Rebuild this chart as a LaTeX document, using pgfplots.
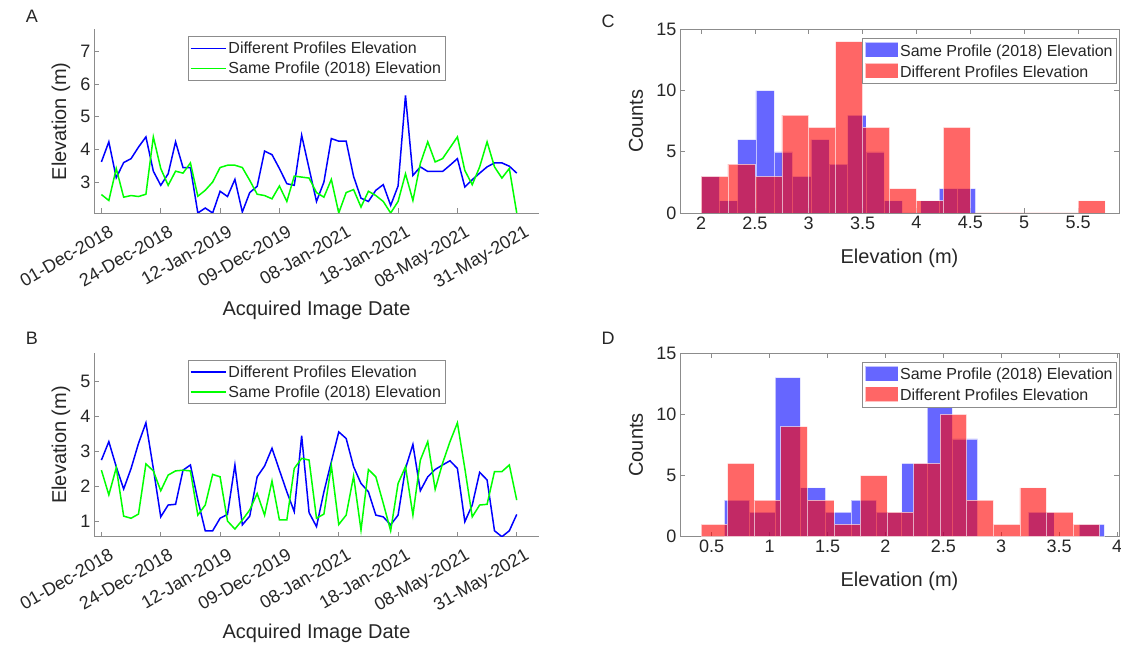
\documentclass[border=0pt]{standalone}
\usepackage{pgfplots}
\pgfplotsset{compat=1.18}
\usepackage{fontspec}
\setmainfont{Liberation Sans}
\definecolor{txt}{HTML}{262626}
\definecolor{axc}{HTML}{8C8C8C}
\definecolor{mblue}{rgb}{0,0,1}
\definecolor{mgreen}{rgb}{0,1,0}
\definecolor{mred}{rgb}{1,0,0}

\pgfplotsset{
  common/.style={
    scale only axis, height=183.5pt,
    axis line style={-, axc, line width=0.7pt},
    every tick/.style={axc, line width=0.7pt},
    major tick length=5pt,
    tick align=inside,
    ticklabel style={font=\fontsize{18}{21}\selectfont, text=txt},
    label style={font=\fontsize{20}{24}\selectfont, text=txt},
    /pgf/number format/assume math mode=true,
    legend style={font=\fontsize{16}{19}\selectfont, text=txt, draw=axc, fill=white, line width=0.7pt, inner xsep=2pt, inner ysep=3pt, row sep=3pt},
    legend cell align=left,
  },
  lineax/.style={common, width=445pt, xmin=0, xmax=60,
    axis x line*=bottom, axis y line*=left,
    xtick={1,9,17,25,33,41,49,57},
    xticklabels={01-Dec-2018,24-Dec-2018,12-Jan-2019,09-Dec-2019,08-Jan-2021,18-Jan-2021,08-May-2021,31-May-2021},
    xticklabel style={xshift=7pt, yshift=-11pt, rotate=30, anchor=north east, inner sep=0pt},
    xlabel={Acquired Image Date}, ylabel={Elevation (m)},
    xlabel style={at={([yshift=-97pt]axis description cs:0.5,0)}, anchor=center},
    ylabel style={at={([xshift=-33pt]axis description cs:0,0.5)}, anchor=center},
    legend image code/.code={\draw[##1, line width=1.5pt] (0pt,0pt) -- (35pt,0pt);},
    legend style={at={(0.5,1)}, anchor=north, yshift=-7pt},
  },
  histax/.style={common, width=439pt, ymin=0, ymax=15, ytick={0,5,10,15}, ylabel={Counts}, xlabel={Elevation (m)},
    xlabel style={at={([yshift=-45pt]axis description cs:0.5,0)}, anchor=center},
    ylabel style={at={([xshift=-44pt]axis description cs:0,0.5)}, anchor=center},
    legend image code/.code={\draw[##1] (0pt,-6pt) rectangle (33pt,9pt);},
    legend style={at={(1,1)}, anchor=north east, xshift=-2pt, yshift=-9pt},
  },
  hb/.style={ybar interval, fill=mblue, fill opacity=0.6, draw=white, draw opacity=0.6, line width=0.6pt},
  hr/.style={ybar interval, fill=mred, fill opacity=0.6, draw=white, draw opacity=0.6, line width=0.6pt},
}

\begin{document}
\begin{tikzpicture}
\useasboundingbox (0pt,0pt) rectangle (1121pt,648pt);

% Panel A
\begin{axis}[lineax, at={(94pt,435pt)}, anchor=south west, ymin=2.08, ymax=7.65, ytick={3,4,5,6,7}]
\addplot[mblue, line width=1.5pt] coordinates {
(1,3.63)(2,4.24)(3,3.15)(4,3.61)(5,3.73)(6,4.08)(7,4.39)(8,3.35)(9,2.92)(10,3.27)
(11,4.24)(12,3.46)(13,3.46)(14,2.08)(15,2.23)(16,2.08)(17,2.74)(18,2.58)(19,3.10)(20,2.11)
(21,2.70)(22,2.89)(23,3.96)(24,3.85)(25,3.43)(26,2.97)(27,2.92)(28,4.44)(29,3.43)(30,2.43)
(31,3.02)(32,4.34)(33,4.26)(34,4.26)(35,3.19)(36,2.53)(37,2.43)(38,2.77)(39,2.94)(40,2.31)
(41,2.90)(42,5.65)(43,3.22)(44,3.48)(45,3.34)(46,3.34)(47,3.34)(48,3.53)(49,3.73)(50,2.87)
(51,3.09)(52,3.29)(53,3.48)(54,3.60)(55,3.60)(56,3.50)(57,3.29)};
\addlegendentry{Different Profiles Elevation}
\addplot[mgreen, line width=1.5pt] coordinates {
(1,2.64)(2,2.46)(3,3.43)(4,2.56)(5,2.61)(6,2.58)(7,2.65)(8,4.39)(9,3.43)(10,2.92)
(11,3.35)(12,3.29)(13,3.60)(14,2.59)(15,2.77)(16,3.02)(17,3.46)(18,3.53)(19,3.53)(20,3.46)
(21,3.07)(22,2.65)(23,2.61)(24,2.51)(25,2.90)(26,2.43)(27,3.20)(28,3.17)(29,3.14)(30,2.70)
(31,2.56)(32,3.10)(33,2.08)(34,2.70)(35,2.79)(36,2.26)(37,2.74)(38,2.61)(39,2.43)(40,2.08)
(41,2.43)(42,3.27)(43,2.46)(44,3.58)(45,4.24)(46,3.63)(47,3.73)(48,4.06)(49,4.39)(50,3.37)
(51,2.94)(52,3.48)(53,4.24)(54,3.48)(55,3.14)(56,3.43)(57,2.08)};
\addlegendentry{Same Profile (2018) Elevation}
\end{axis}

% Panel B
\begin{axis}[lineax, at={(94pt,111.3pt)}, anchor=south west, ymin=0.55, ymax=5.82, ytick={1,2,3,4,5}]
\addplot[mblue, line width=1.5pt] coordinates {
(1,2.75)(2,3.28)(3,2.56)(4,1.92)(5,2.51)(6,3.23)(7,3.82)(8,2.51)(9,1.12)(10,1.46)
(11,1.48)(12,2.46)(13,2.61)(14,1.60)(15,0.72)(16,0.72)(17,1.08)(18,1.19)(19,2.61)(20,0.89)
(21,1.14)(22,2.27)(23,2.58)(24,3.09)(25,2.46)(26,1.84)(27,1.27)(28,3.45)(29,1.24)(30,0.84)
(31,1.84)(32,2.70)(33,3.56)(34,3.37)(35,2.56)(36,2.08)(37,1.84)(38,1.17)(39,1.12)(40,0.89)
(41,1.17)(42,2.51)(43,3.20)(44,1.87)(45,2.27)(46,2.48)(47,2.61)(48,2.73)(49,2.51)(50,0.98)
(51,1.46)(52,2.40)(53,2.18)(54,0.72)(55,0.55)(56,0.72)(57,1.19)};
\addlegendentry{Different Profiles Elevation}
\addplot[mgreen, line width=1.5pt] coordinates {
(1,2.46)(2,1.75)(3,2.53)(4,1.14)(5,1.08)(6,1.20)(7,2.64)(8,2.44)(9,1.87)(10,2.32)
(11,2.44)(12,2.46)(13,2.44)(14,1.17)(15,1.46)(16,2.34)(17,2.27)(18,1.00)(19,0.77)(20,1.03)
(21,1.32)(22,1.79)(23,1.17)(24,2.15)(25,1.03)(26,1.03)(27,2.51)(28,2.80)(29,2.75)(30,1.08)
(31,1.20)(32,2.59)(33,0.90)(34,1.17)(35,2.29)(36,0.74)(37,2.48)(38,2.27)(39,1.51)(40,0.72)
(41,2.08)(42,2.56)(43,1.17)(44,2.75)(45,3.28)(46,1.91)(47,2.66)(48,3.28)(49,3.82)(50,2.51)
(51,1.12)(52,1.46)(53,1.48)(54,2.42)(55,2.42)(56,2.61)(57,1.60)};
\addlegendentry{Same Profile (2018) Elevation}
\end{axis}

% Panel C
\begin{axis}[histax, at={(680pt,435pt)}, anchor=south west, xmin=1.805, xmax=5.88, xtick={2,2.5,3,3.5,4,4.5,5,5.5}]
\addplot[hb] coordinates {
(2.00,3)(2.17,1)(2.34,6)(2.51,10)(2.68,5)(2.85,3)(3.02,6)(3.19,4)(3.36,8)(3.53,5)
(3.70,1)(3.87,0)(4.04,1)(4.21,2)(4.38,2)(4.55,2)};
\addlegendentry{Same Profile (2018) Elevation}
\addplot[hr] coordinates {
(2.00,3)(2.25,4)(2.50,3)(2.75,8)(3.00,7)(3.25,14)(3.50,7)(3.75,2)(4.00,1)(4.25,7)
(4.50,0)(4.75,0)(5.00,0)(5.25,0)(5.50,1)(5.75,1)};
\addlegendentry{Different Profiles Elevation}
\end{axis}

% Panel D
\begin{axis}[histax, at={(680pt,111.3pt)}, anchor=south west, xmin=0.226, xmax=4.017, xtick={0.5,1,1.5,2,2.5,3,3.5,4}]
\addplot[hb] coordinates {
(0.609,3)(0.828,2)(1.047,13)(1.265,4)(1.484,2)(1.703,3)(1.922,2)(2.141,6)(2.360,11)(2.578,8)
(2.797,0)(3.016,0)(3.235,2)(3.454,0)(3.672,1)(3.891,1)};
\addlegendentry{Same Profile (2018) Elevation}
\addplot[hr] coordinates {
(0.408,1)(0.637,6)(0.867,3)(1.096,9)(1.326,3)(1.555,1)(1.784,5)(2.014,2)(2.243,6)(2.473,10)
(2.702,3)(2.931,1)(3.161,4)(3.390,2)(3.620,1)(3.849,1)};
\addlegendentry{Different Profiles Elevation}
\end{axis}

\node[font=\fontsize{18}{21}\selectfont, text=txt] at (32pt,631.5pt) {A};
\node[font=\fontsize{18}{21}\selectfont, text=txt] at (32pt,310pt) {B};
\node[font=\fontsize{18}{21}\selectfont, text=txt] at (608pt,627pt) {C};
\node[font=\fontsize{18}{21}\selectfont, text=txt] at (608pt,310pt) {D};
\end{tikzpicture}
\end{document}
